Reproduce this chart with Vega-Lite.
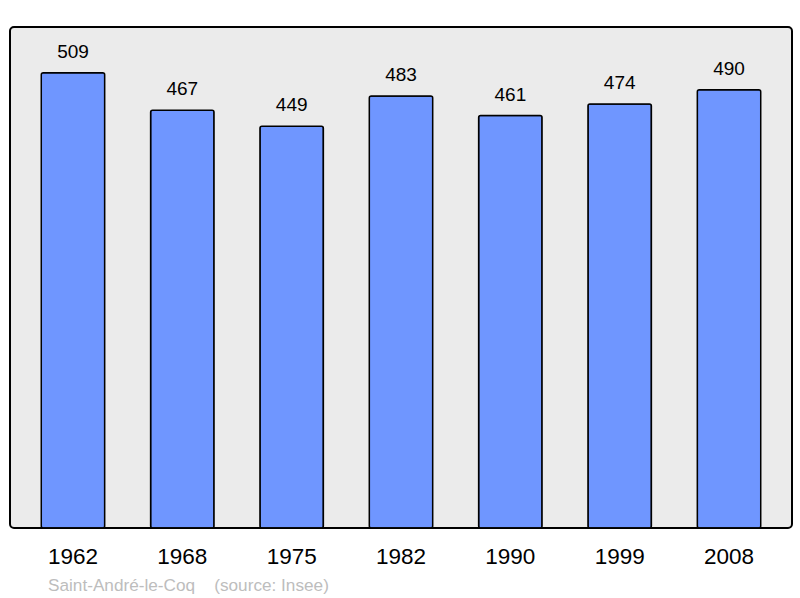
{
  "$schema": "https://vega.github.io/schema/vega-lite/v6.json",
  "width": 782,
  "height": 501,
  "autosize": {"type": "none"},
  "padding": {"left": 10, "top": 27, "right": 8, "bottom": 70},
  "background": "white",
  "config": {
    "font": "Liberation Sans",
    "view": {"fill": "#ebebeb", "stroke": "black", "strokeWidth": 2, "cornerRadius": 4}
  },
  "title": {
    "text": "Saint-André-le-Coq\u00a0\u00a0\u00a0\u00a0(source: Insee)",
    "orient": "bottom",
    "anchor": "start",
    "dx": 38,
    "offset": 9,
    "fontSize": 17.2,
    "fontWeight": "normal",
    "color": "#bdbdbd",
    "font": "Liberation Sans"
  },
  "data": {
    "values": [
      {"year": "1962", "pop": 509},
      {"year": "1968", "pop": 467},
      {"year": "1975", "pop": 449},
      {"year": "1982", "pop": 483},
      {"year": "1990", "pop": 461},
      {"year": "1999", "pop": 474},
      {"year": "2008", "pop": 490}
    ]
  },
  "encoding": {
    "x": {
      "field": "year",
      "type": "ordinal",
      "sort": null,
      "scale": {"paddingInner": 0.42, "paddingOuter": 0.286},
      "axis": {"title": null, "domain": false, "ticks": false, "labelAngle": 0, "labelFontSize": 22.5, "labelColor": "black", "labelPadding": 17}
    },
    "y": {
      "field": "pop",
      "type": "quantitative",
      "scale": {"domain": [0, 560]},
      "axis": null
    }
  },
  "layer": [
    {
      "mark": {"type": "bar", "fill": "#6f96ff", "stroke": "black", "strokeWidth": 1.5, "cornerRadius": 2}
    },
    {
      "mark": {"type": "text", "baseline": "bottom", "dy": -11, "fontSize": 19, "color": "black"},
      "encoding": {"text": {"field": "pop", "type": "quantitative"}}
    }
  ]
}
